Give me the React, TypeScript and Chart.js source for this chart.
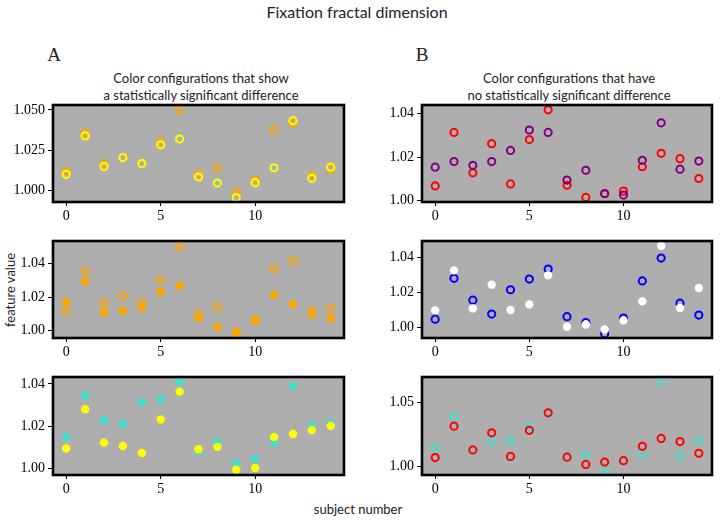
import React, { useEffect, useRef } from "react";
import { Chart, registerables } from "chart.js";
Chart.register(...registerables);

// ---- data ----
const subjects = [0, 1, 2, 3, 4, 5, 6, 7, 8, 9, 10, 11, 12, 13, 14];

// Panel A (significant difference)
const orangeOpen = [1.0115, 1.0354, 1.0163, 1.0204, 1.0167, 1.0302, 1.0500, 1.0098, 1.0140, 0.9990, 1.0063, 1.0371, 1.0417, 1.0094, 1.0133];
const yellowOpen = [1.0100, 1.0338, 1.0148, 1.0204, 1.0167, 1.0283, 1.0319, 1.0083, 1.0046, 0.9956, 1.0048, 1.0140, 1.0433, 1.0075, 1.0144];
const orangeFilled = [1.0170, 1.0294, 1.0108, 1.0118, 1.0138, 1.0230, 1.0268, 1.0074, 1.0020, 0.9986, 1.0056, 1.0214, 1.0156, 1.0116, 1.0072];
const turquoiseFilled = [1.0150, 1.0346, 1.0229, 1.0212, 1.0313, 1.0327, 1.0410, 1.0082, 1.0125, 1.0024, 1.0046, 1.0123, 1.0390, 1.0202, 1.0213];
const yellowFilled = [1.0095, 1.0281, 1.0123, 1.0107, 1.0074, 1.0232, 1.0364, 1.0092, 1.0103, 0.9995, 1.0003, 1.0149, 1.0164, 1.0182, 1.0202];

// Panel B (no significant difference)
const redOpen = [1.0068, 1.0314, 1.0128, 1.0262, 1.0077, 1.0281, 1.0418, 1.0071, 1.0015, 1.0033, 1.0044, 1.0156, 1.0218, 1.0193, 1.0102];
const purpleOpen = [1.0154, 1.0180, 1.0163, 1.0180, 1.0231, 1.0325, 1.0314, 1.0095, 1.0140, 1.0032, 1.0026, 1.0186, 1.0358, 1.0145, 1.0182];
const blueOpen = [1.0049, 1.0281, 1.0157, 1.0078, 1.0216, 1.0277, 1.0334, 1.0063, 1.0030, 0.9966, 1.0055, 1.0266, 1.0396, 1.0140, 1.0072];
const whiteFilled = [1.0099, 1.0326, 1.0110, 1.0245, 1.0101, 1.0133, 1.0298, 1.0006, 1.0019, 0.9990, 1.0042, 1.0150, 1.0466, 1.0112, 1.0226];
const turquoiseOpen = [1.0144, 1.0387, 1.0125, 1.0196, 1.0199, 1.0309, 1.0420, 1.0071, 1.0089, 0.9974, 1.0045, 1.0099, 1.0662, 1.0079, 1.0199];

const xTicks = [0, 5, 10];
const yTicksA1 = [1.0, 1.025, 1.05];
const yTicksStd = [1.0, 1.02, 1.04];
const yTicksB3 = [1.0, 1.05];

const ORANGE = "#FFA500";
const YELLOW = "#FFFF00";
const TURQ = "#40E0D0";
const RED = "#FF0000";
const PURPLE = "#800080";
const BLUE = "#0000FF";
const WHITE = "#FFFFFF";

type Series = { values: number[]; color: string; filled: boolean };
type PanelProps = {
  rect: [number, number, number, number];
  yMin: number;
  yMax: number;
  yTicks: number[];
  decimals: number;
  series: Series[];
};

const Y_W = 55;
const X_H = 25;
const PAD_T = 15;
const PAD_R = 12;

const framePlugin = {
  id: "frame",
  beforeDatasetsDraw(chart: any) {
    const { ctx, chartArea: a } = chart;
    ctx.save();
    ctx.fillStyle = "#AEAEAE";
    ctx.fillRect(a.left, a.top, a.right - a.left, a.bottom - a.top);
    ctx.restore();
  },
  afterDatasetsDraw(chart: any) {
    const { ctx, chartArea: a } = chart;
    ctx.save();
    ctx.strokeStyle = "#000";
    ctx.lineWidth = 2.6;
    ctx.strokeRect(a.left, a.top, a.right - a.left, a.bottom - a.top);
    ctx.restore();
  },
};

function Panel({ rect, yMin, yMax, yTicks, decimals, series }: PanelProps) {
  const ref = useRef<HTMLCanvasElement>(null);
  const [l, t, r, b] = rect;
  const w = Y_W + (r - l) + PAD_R;
  const h = PAD_T + (b - t) + X_H;
  useEffect(() => {
    const tickFont = { family: "'Liberation Serif', serif", size: 14 };
    const n = series.length;
    const chart = new Chart(ref.current!, {
      type: "scatter",
      data: {
        // later series are drawn on top (lower `order` draws last)
        datasets: series.map((s, k) => ({
          data: subjects.map((x, i) => ({ x, y: s.values[i] })),
          backgroundColor: s.filled ? s.color : "rgba(0,0,0,0)",
          borderColor: s.color,
          borderWidth: s.filled ? 0 : 2,
          pointRadius: s.filled ? 4.2 : 3.6,
          pointHoverRadius: s.filled ? 4.2 : 3.6,
          clip: 0,
          order: n - k,
        })),
      },
      plugins: [framePlugin],
      options: {
        responsive: false,
        animation: false,
        events: [],
        layout: { padding: { top: PAD_T, right: PAD_R, left: 0, bottom: 0 } },
        plugins: { legend: { display: false }, tooltip: { enabled: false }, title: { display: false } },
        scales: {
          x: {
            type: "linear",
            min: -0.7,
            max: 14.7,
            afterFit: (s: any) => { s.height = X_H; },
            afterBuildTicks: (s: any) => { s.ticks = xTicks.map((v) => ({ value: v })); },
            grid: { drawOnChartArea: false, drawTicks: true, tickLength: 4, tickColor: "#000", tickWidth: 1 },
            border: { display: false },
            ticks: { color: "#000", font: tickFont, padding: 2, maxRotation: 0, callback: (v: any) => String(v) },
          },
          y: {
            type: "linear",
            min: yMin,
            max: yMax,
            afterFit: (s: any) => { s.width = Y_W; },
            afterBuildTicks: (s: any) => { s.ticks = yTicks.map((v) => ({ value: v })); },
            grid: { drawOnChartArea: false, drawTicks: true, tickLength: 5, tickColor: "#000", tickWidth: 1 },
            border: { display: false },
            ticks: { color: "#000", font: tickFont, padding: 3, callback: (v: any) => Number(v).toFixed(decimals) },
          },
        },
      } as any,
    });
    return () => chart.destroy();
  }, []);
  return (
    <canvas
      ref={ref}
      width={w}
      height={h}
      style={{ position: "absolute", left: l - Y_W, top: t - PAD_T, width: w, height: h }}
    />
  );
}

const sans = "Lato, 'Open Sans', sans-serif";
const serif = "'Liberation Serif', serif";

function Label({ x, y, text, font, size, rotate }: { x: number; y: number; text: string; font: string; size: number; rotate?: boolean }) {
  return (
    <div
      style={{
        position: "absolute",
        left: x,
        top: y,
        transform: `translate(-50%, -50%)${rotate ? " rotate(-90deg)" : ""}`,
        fontFamily: font,
        fontSize: size,
        color: "#222",
        whiteSpace: "nowrap",
        lineHeight: 1,
      }}
    >
      {text}
    </div>
  );
}

export default function App() {
  return (
    <div style={{ position: "fixed", left: 0, top: 0, width: 721, height: 520, background: "#fff", overflow: "hidden" }}>
      <Label x={357} y={12} text="Fixation fractal dimension" font={sans} size={16} />
      <Label x={54} y={54} text="A" font={serif} size={19} />
      <Label x={422} y={54} text="B" font={serif} size={19} />
      <Label x={201} y={78} text="Color configurations that show" font={sans} size={13} />
      <Label x={201} y={95} text="a statistically significant difference" font={sans} size={13} />
      <Label x={569} y={78} text="Color configurations that have" font={sans} size={13} />
      <Label x={569} y={95} text="no statistically significant difference" font={sans} size={13} />
      <Label x={10} y={290} text="feature value" font={sans} size={13} rotate />
      <Label x={358} y={509} text="subject number" font={sans} size={13} />

      <Panel rect={[53, 105, 344, 202]} yMin={0.9928} yMax={1.053} yTicks={yTicksA1} decimals={3}
        series={[{ values: orangeOpen, color: ORANGE, filled: false }, { values: yellowOpen, color: YELLOW, filled: false }]} />
      <Panel rect={[422, 105, 712, 202]} yMin={0.9994} yMax={1.044} yTicks={yTicksStd} decimals={2}
        series={[{ values: redOpen, color: RED, filled: false }, { values: purpleOpen, color: PURPLE, filled: false }]} />
      <Panel rect={[53, 241, 344, 338]} yMin={0.9955} yMax={1.0535} yTicks={yTicksStd} decimals={2}
        series={[{ values: orangeFilled, color: ORANGE, filled: true }, { values: orangeOpen, color: ORANGE, filled: false }]} />
      <Panel rect={[422, 241, 712, 338]} yMin={0.9942} yMax={1.0493} yTicks={yTicksStd} decimals={2}
        series={[{ values: blueOpen, color: BLUE, filled: false }, { values: whiteFilled, color: WHITE, filled: true }]} />
      <Panel rect={[53, 377, 344, 475]} yMin={0.997} yMax={1.0433} yTicks={yTicksStd} decimals={2}
        series={[{ values: turquoiseFilled, color: TURQ, filled: true }, { values: yellowFilled, color: YELLOW, filled: true }]} />
      <Panel rect={[422, 377, 712, 475]} yMin={0.9932} yMax={1.0698} yTicks={yTicksB3} decimals={2}
        series={[{ values: turquoiseOpen, color: TURQ, filled: false }, { values: redOpen, color: RED, filled: false }]} />
    </div>
  );
}
